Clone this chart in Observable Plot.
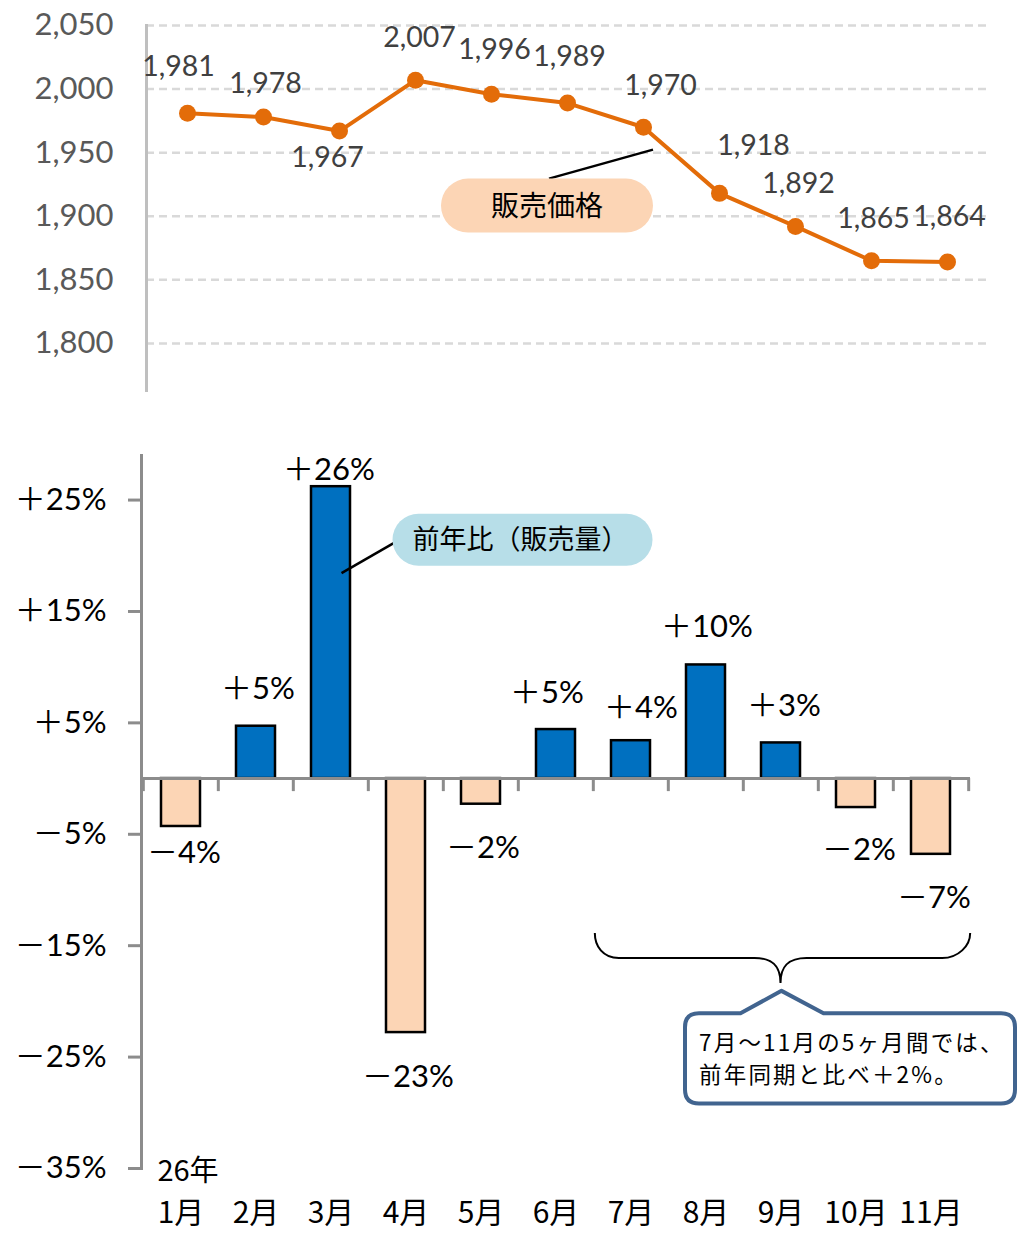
<!DOCTYPE html>
<html><head><meta charset="utf-8">
<script src="https://cdn.jsdelivr.net/npm/d3@7"></script>
<script src="https://cdn.jsdelivr.net/npm/@observablehq/plot@0.6"></script>
<style>
body{margin:0;background:#fff;}
#wrap{position:relative;width:1018px;height:1233px;overflow:hidden;background:#fff;}
#top{position:absolute;left:0;top:0;}
#bot{position:absolute;left:0;top:400px;}
</style></head><body><div id="wrap"><div id="top"></div><div id="bot"></div></div>
<script>
// ---- data ----
const months = ["1月","2月","3月","4月","5月","6月","7月","8月","9月","10月","11月"];
const prices = [1981,1978,1967,2007,1996,1989,1970,1918,1892,1865,1864];
const priceTicks = [1800,1850,1900,1950,2000,2050];
const yoy = [-4.3,4.7,26.2,-22.8,-2.3,4.4,3.4,10.2,3.2,-2.6,-6.8];
const yoyLabels = ["－4%","＋5%","＋26%","－23%","－2%","＋5%","＋4%","＋10%","＋3%","－2%","－7%"];
const yoyTicks = [25,15,5,-5,-15,-25,-35];
const yearLabel = "26年";
const priceTitle = "販売価格";
const yoyTitle = "前年比（販売量）";
const noteLines = ["7月～11月の5ヶ月間では、","前年同期と比べ＋2%。"];

// ---- layout helpers ----
const W = 1018;
const NUM = "Lato, 'Noto Sans CJK JP', sans-serif";
const CJK = "'Noto Sans CJK JP', sans-serif";
const priceFmt = d3.format(",");
const pctFmt = v => (v > 0 ? "＋" : "－") + Math.abs(v) + "%";

const priceData = months.map((m, i) => ({month: m, price: prices[i]}));
const pdx = [-9, 2, -12, 4, 3, 2, 17, 34, 3, 2, 2];
const pdy = [-46, -33, 27, -42, -44, -46, -41, -47, -43, -42, -45];

const topPlot = Plot.plot({
  width: W, height: 400,
  marginLeft: 146, marginRight: 30, marginTop: 25, marginBottom: 10,
  x: {type: "point", domain: months, padding: 0.5, axis: null},
  y: {domain: [1763, 2050], axis: null},
  style: {fontFamily: NUM, background: "transparent", overflow: "visible"},
  marks: [
    Plot.ruleY(priceTicks, {stroke: "#D9D9D9", strokeWidth: 2.5, strokeDasharray: "8,5"}),
    Plot.frame({anchor: "left", stroke: "#BFBFBF", strokeWidth: 3}),
    Plot.axisY(priceTicks, {anchor: "left", label: null, tickSize: 0, tickPadding: 33, fontSize: 31, color: "#595959", tickFormat: priceFmt}),
    Plot.line(priceData, {x: "month", y: "price", stroke: "#E36C09", strokeWidth: 4}),
    Plot.dot(priceData, {x: "month", y: "price", r: 8.5, fill: "#E36C09"}),
    ...priceData.map((d, i) => Plot.text([d], {x: "month", y: "price", text: r => priceFmt(r.price), dx: pdx[i], dy: pdy[i], fontSize: 28.5, fill: "#404040"}))
  ]
});
document.getElementById("top").appendChild(topPlot);

// annotation: 販売価格 pill
{
  const xs = topPlot.scale("x"), ys = topPlot.scale("y");
  const svg = d3.select(topPlot);
  const cx = xs.apply("5月") + 56, cy = ys.apply(1908);
  const w = 212, h = 54;
  svg.append("line").attr("x1", cx + 2).attr("y1", cy - h / 2)
    .attr("x2", xs.apply("7月") + 10).attr("y2", ys.apply(1952))
    .attr("stroke", "#000").attr("stroke-width", 2.5);
  svg.append("rect").attr("x", cx - w / 2).attr("y", cy - h / 2).attr("width", w).attr("height", h)
    .attr("rx", h / 2).attr("fill", "#FCD5B5");
  svg.append("text").attr("x", cx).attr("y", cy).attr("text-anchor", "middle").attr("dy", "0.36em")
    .attr("font-family", CJK).attr("font-size", 28).attr("fill", "#000").text(priceTitle);
}

// ---- bottom chart ----
const yoyData = months.map((m, i) => ({month: m, v: yoy[i], label: yoyLabels[i]}));
const ldx = [3, 2, -2, 2, 2, -9, 10, 1, 3, 3, 3];
const ldy = [27, -37, -17, 44, 44, -36, -33, -38, -37, 43, 44];
const botL = 141, botR = 970;
const step = (botR - botL) / months.length;

const botPlot = Plot.plot({
  width: W, height: 833,
  marginLeft: botL, marginRight: W - botR, marginTop: 55, marginBottom: 65,
  x: {type: "band", domain: months, paddingInner: 0.48, paddingOuter: 0.24, axis: null},
  y: {domain: [-35, 29], axis: null},
  style: {fontFamily: NUM, background: "transparent", overflow: "visible"},
  marks: [
    Plot.barY(yoyData, {x: "month", y: "v", fill: d => d.v >= 0 ? "#0070C0" : "#FCD5B5", stroke: "#000", strokeWidth: 2.5}),
    Plot.ruleY([0], {stroke: "#8C8C8C", strokeWidth: 3}),
    Plot.ruleX(months, {x: d => d, y1: 0, y2: -1.17, dx: -step / 2, stroke: "#8C8C8C", strokeWidth: 3}),
    Plot.ruleX([months[months.length - 1]], {x: d => d, y1: 0, y2: -1.17, dx: step / 2, stroke: "#8C8C8C", strokeWidth: 3}),
    Plot.frame({anchor: "left", stroke: "#8C8C8C", strokeWidth: 3}),
    Plot.axisY(yoyTicks, {anchor: "left", label: null, tickSize: 13, tickPadding: 22, stroke: "#8C8C8C", strokeWidth: 3, fontSize: 31, color: "#000", tickFormat: pctFmt}),
    ...yoyData.map((d, i) => Plot.text([d], {x: "month", y: "v", text: "label", dx: ldx[i], dy: ldy[i], fontSize: 31, fill: "#000"})),
    Plot.text(months, {x: d => d, frameAnchor: "bottom", dy: 54, fontSize: 30, fontFamily: CJK, fill: "#000"}),
    Plot.text([yearLabel], {x: () => months[0], frameAnchor: "bottom", dy: 12, dx: 7, fontSize: 29, fontFamily: CJK, fill: "#000"})
  ]
});
document.getElementById("bot").appendChild(botPlot);

{
  const xs = botPlot.scale("x"), ys = botPlot.scale("y");
  const bw = xs.bandwidth;
  const svg = d3.select(botPlot);
  const cxOf = m => xs.apply(m) + bw / 2;
  // pill 前年比（販売量）
  const pcx = cxOf("5月") + 42, pcy = ys.apply(21.4), pw = 260, ph = 52;
  svg.append("line").attr("x1", cxOf("3月") + 11).attr("y1", ys.apply(18.4))
    .attr("x2", pcx - pw / 2 + 2).attr("y2", pcy + 3).attr("stroke", "#000").attr("stroke-width", 2.5);
  svg.append("rect").attr("x", pcx - pw / 2).attr("y", pcy - ph / 2).attr("width", pw).attr("height", ph)
    .attr("rx", ph / 2).attr("fill", "#B7DEE8");
  svg.append("text").attr("x", pcx - 2).attr("y", pcy).attr("text-anchor", "middle").attr("dy", "0.36em")
    .attr("font-family", CJK).attr("font-size", 27).attr("fill", "#000").text(yoyTitle);

  // brace over 7月–11月
  const bl = cxOf("7月") - step / 2, br = cxOf("11月") + step / 2;
  const yt = ys.apply(-13.9), yb = ys.apply(-16.15), ytip = ys.apply(-18.4);
  const mid = (bl + br) / 2;
  const path = `M${bl + 2},${yt} C${bl + 2},${yb - 12} ${bl + 10},${yb} ${bl + 26},${yb}
    L${mid - 26},${yb} C${mid - 8},${yb} ${mid},${yb + 8} ${mid},${ytip}
    C${mid},${yb + 8} ${mid + 8},${yb} ${mid + 26},${yb}
    L${br - 26},${yb} C${br - 10},${yb} ${br + 2},${yb - 12} ${br + 2},${yt}`;
  svg.append("path").attr("d", path).attr("fill", "none").attr("stroke", "#000").attr("stroke-width", 2);

  // callout box
  const bx0 = 685, bx1 = 1015, by0 = ys.apply(-21.1), by1 = ys.apply(-29.2), r = 14;
  const ax = mid + 1, ay = ys.apply(-19.1);
  const cp = `M${bx0 + r},${by0} L${ax - 41},${by0} L${ax},${ay} L${ax + 42},${by0} L${bx1 - r},${by0}
    Q${bx1},${by0} ${bx1},${by0 + r} L${bx1},${by1 - r} Q${bx1},${by1} ${bx1 - r},${by1}
    L${bx0 + r},${by1} Q${bx0},${by1} ${bx0},${by1 - r} L${bx0},${by0 + r} Q${bx0},${by0} ${bx0 + r},${by0} Z`;
  svg.append("path").attr("d", cp).attr("fill", "#fff").attr("stroke", "#41648F").attr("stroke-width", 4).attr("stroke-linejoin", "round");
  noteLines.forEach((t, i) => {
    svg.append("text").attr("x", 699).attr("y", by0 + 30 + i * 32).attr("dy", "0.36em").attr("text-anchor", "start")
      .attr("font-family", CJK).attr("font-size", 22.5).attr("letter-spacing", 2.2).attr("fill", "#000").text(t);
  });
}
</script></body></html>
